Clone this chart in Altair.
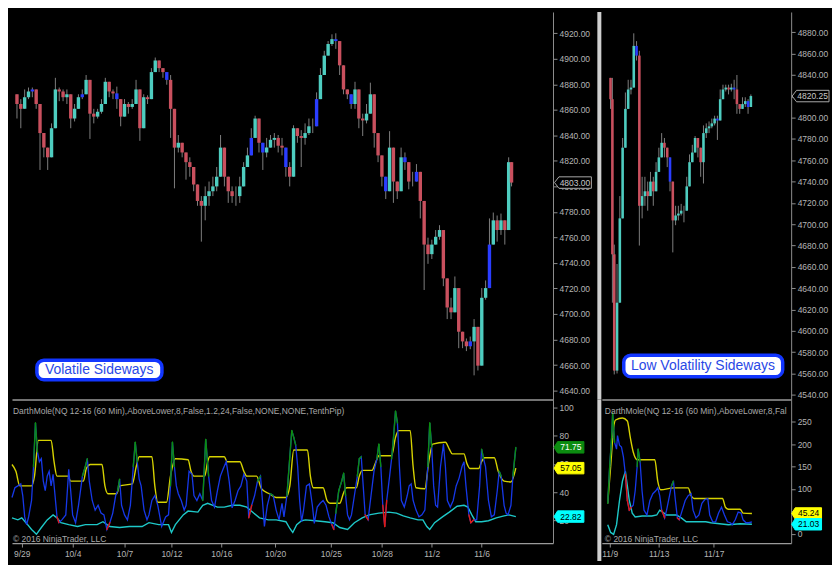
import altair as alt
import numpy as np
import pandas as pd

# ---------------- data: left (volatile) price candles ----------------
L_T = list(range(0, 513, 4)) + [515]
L_CLOSE = [
    4864.6, 4860.8, 4869.9, 4874.4, 4876.0, 4864.6, 4841.8, 4830.4, 4822.8, 4845.6,
    4876.0, 4874.4, 4869.9, 4872.2, 4853.2, 4860.8, 4869.9, 4872.2, 4883.5, 4857.0,
    4854.7, 4858.5, 4864.6, 4882.0, 4874.4, 4872.9, 4868.4, 4854.7, 4864.6, 4862.3,
    4864.6, 4876.0, 4845.6, 4869.9, 4868.4, 4889.6, 4898.7, 4892.7, 4889.6, 4883.5,
    4860.8, 4830.4, 4834.2, 4826.6, 4819.0, 4815.2, 4801.5, 4788.6, 4784.8, 4792.4,
    4796.2, 4800.0, 4807.6, 4830.4, 4807.6, 4796.2, 4792.4, 4792.4, 4800.0, 4815.2,
    4824.3, 4838.0, 4853.2, 4834.2, 4826.6, 4830.4, 4836.5, 4838.0, 4831.9, 4830.4,
    4815.2, 4807.6, 4845.6, 4839.5, 4838.0, 4841.8, 4847.1, 4847.1, 4868.4, 4887.3,
    4902.5, 4911.6, 4915.4, 4913.9, 4894.9, 4876.0, 4872.2, 4864.6, 4876.0, 4853.2,
    4851.7, 4857.0, 4872.2, 4841.8, 4824.3, 4807.6, 4796.2, 4830.4, 4803.8, 4796.2,
    4822.8, 4819.0, 4803.8, 4803.8, 4811.4, 4788.6, 4754.4, 4746.9, 4754.4, 4760.5,
    4765.8, 4727.9, 4705.1, 4701.3, 4720.3, 4686.1, 4678.5, 4674.7, 4678.5, 4689.9,
    4659.5, 4712.7, 4720.3, 4754.4, 4773.4, 4765.8, 4773.4, 4765.8, 4819.0, 4803.0,
]
L_HIGH = [
    4872.2, 4868.4, 4876.0, 4877.5, 4877.5, 4872.2, 4853.2, 4838.0, 4830.4, 4849.4,
    4885.1, 4877.5, 4876.0, 4876.0, 4860.8, 4864.6, 4872.2, 4876.0, 4887.3, 4864.6,
    4860.8, 4860.8, 4868.4, 4885.1, 4877.5, 4876.0, 4878.2, 4864.6, 4868.4, 4866.1,
    4868.4, 4883.5, 4860.8, 4872.2, 4871.4, 4892.7, 4901.0, 4897.2, 4892.7, 4889.6,
    4887.3, 4845.6, 4840.3, 4834.2, 4826.6, 4822.8, 4811.4, 4800.0, 4792.4, 4800.0,
    4803.8, 4807.6, 4815.2, 4840.3, 4815.2, 4803.8, 4800.0, 4800.0, 4807.6, 4819.0,
    4830.4, 4845.6, 4855.4, 4845.6, 4832.7, 4838.0, 4840.3, 4841.8, 4840.3, 4838.0,
    4830.4, 4819.0, 4847.9, 4845.6, 4844.1, 4849.4, 4853.2, 4853.2, 4873.7, 4892.7,
    4906.3, 4913.9, 4919.2, 4920.0, 4902.5, 4883.5, 4876.0, 4869.9, 4882.0, 4860.8,
    4857.0, 4864.6, 4881.3, 4853.2, 4830.4, 4815.2, 4803.8, 4843.3, 4811.4, 4803.8,
    4830.4, 4826.6, 4811.4, 4811.4, 4817.5, 4800.0, 4762.0, 4759.8, 4758.2, 4765.8,
    4769.6, 4739.3, 4714.2, 4712.7, 4729.4, 4693.7, 4682.3, 4680.8, 4682.3, 4696.0,
    4670.9, 4720.3, 4726.3, 4774.9, 4779.5, 4777.2, 4778.7, 4773.4, 4822.8, 4811.4,
]
L_LOW = [
    4853.2, 4845.6, 4864.6, 4868.4, 4869.9, 4860.8, 4812.9, 4822.8, 4812.9, 4834.2,
    4868.4, 4866.8, 4866.8, 4864.6, 4845.6, 4850.9, 4866.8, 4868.4, 4876.0, 4837.2,
    4849.4, 4853.2, 4857.0, 4872.2, 4869.9, 4868.4, 4860.8, 4847.1, 4860.8, 4857.0,
    4860.8, 4868.4, 4835.7, 4866.8, 4864.6, 4879.7, 4894.9, 4889.6, 4885.1, 4879.7,
    4838.0, 4798.5, 4826.6, 4822.8, 4805.3, 4807.6, 4796.2, 4784.8, 4756.7, 4773.4,
    4784.8, 4792.4, 4796.2, 4815.2, 4800.0, 4787.1, 4787.1, 4784.8, 4787.1, 4807.6,
    4819.0, 4830.4, 4841.8, 4826.6, 4812.9, 4822.8, 4830.4, 4830.4, 4826.6, 4824.3,
    4807.6, 4800.0, 4834.2, 4834.2, 4815.2, 4832.7, 4840.3, 4841.8, 4853.2, 4879.7,
    4892.7, 4906.3, 4910.1, 4907.8, 4887.3, 4872.2, 4868.4, 4860.8, 4860.8, 4845.6,
    4839.5, 4849.4, 4860.8, 4830.4, 4819.0, 4800.0, 4790.1, 4815.2, 4787.1, 4790.1,
    4815.2, 4812.9, 4797.7, 4800.0, 4807.6, 4774.9, 4718.8, 4739.3, 4743.1, 4754.4,
    4758.2, 4721.8, 4696.0, 4696.0, 4708.9, 4673.2, 4673.2, 4670.9, 4672.4, 4651.9,
    4655.7, 4708.9, 4711.2, 4737.0, 4765.8, 4756.7, 4762.0, 4754.4, 4796.2, 4800.0,
]
L_BLUE = [16, 68, 104, 156, 244, 256, 280, 312, 332, 348, 384, 404, 416, 472, 492]

# ---------------- data: right (low volatility) price candles ----------------
R_T = [4, 6] + list(range(8, 156, 3))
R_CLOSE = [
    4817.3, 4671.8, 4562.7, 4626.4, 4705.5, 4771.8, 4808.2, 4826.4, 4828.2, 4867.3,
    4858.2, 4717.3, 4726.4, 4730.9, 4726.4, 4740.0, 4730.9, 4749.1, 4762.7, 4776.4,
    4771.8, 4762.7, 4740.0, 4703.6, 4708.2, 4710.0, 4712.7, 4712.7, 4735.5, 4758.2,
    4767.3, 4780.9, 4771.8, 4758.2, 4785.5, 4790.0, 4791.8, 4794.6, 4799.1, 4797.3,
    4817.3, 4826.4, 4828.2, 4826.4, 4828.2, 4826.4, 4812.7, 4808.2, 4812.7, 4815.5,
    4810.0, 4820.25,
]
R_HIGH = [
    4837.3, 4837.3, 4680.9, 4662.7, 4726.4, 4780.9, 4823.6, 4835.5, 4835.5, 4879.1,
    4871.8, 4862.7, 4744.5, 4744.5, 4740.0, 4749.1, 4744.5, 4758.2, 4771.8, 4785.5,
    4780.9, 4769.1, 4749.1, 4717.3, 4717.3, 4717.3, 4719.1, 4717.3, 4744.5, 4765.5,
    4774.5, 4782.7, 4780.9, 4769.1, 4792.7, 4794.6, 4796.4, 4799.1, 4801.8, 4801.8,
    4826.4, 4830.9, 4830.9, 4830.9, 4831.8, 4835.5, 4840.0, 4812.7, 4819.1, 4819.1,
    4817.3, 4821.8,
]
R_LOW = [
    4808.2, 4626.4, 4559.1, 4560.0, 4671.8, 4705.5, 4771.8, 4817.3, 4821.8, 4862.7,
    4853.6, 4680.0, 4705.5, 4717.3, 4712.7, 4726.4, 4717.3, 4730.9, 4749.1, 4767.3,
    4762.7, 4753.6, 4730.9, 4673.6, 4699.1, 4703.6, 4708.2, 4701.8, 4717.3, 4749.1,
    4758.2, 4771.8, 4762.7, 4744.5, 4738.2, 4780.9, 4785.5, 4790.0, 4792.7, 4779.1,
    4799.1, 4817.3, 4824.5, 4821.8, 4824.5, 4817.3, 4803.6, 4803.6, 4808.2, 4810.0,
    4803.6, 4812.7,
]
R_BLUE = [32, 68, 83, 119, 137, 152]

# ---------------- data: left indicator ----------------
LI_Y_T = [0, 4, 8, 20, 23, 27, 40, 43, 46, 57, 60, 73, 76, 80, 92, 95, 98, 107, 110, 123,
          127, 130, 143, 146, 149, 158, 162, 167, 180, 183, 186, 197, 200, 202, 217, 220, 233, 237, 240, 250,
          255, 263, 270, 280, 284, 288, 302, 305, 308, 318, 322, 325, 335, 339, 342, 352, 355, 358, 368, 372,
          375, 388, 392, 395, 407, 410, 413, 422, 426, 430, 443, 447, 450, 462, 465, 468, 477, 480, 483, 493,
          497, 503, 510, 515]
LI_Y_V = [59.6, 54.8, 44.5, 44.5, 51.4, 76.7, 76.7, 61.6, 51.4, 51.4, 47.9, 47.9, 56.8, 59.6, 59.6, 44.5, 39.0, 39.0, 44.5, 45.9,
          58.2, 65.1, 65.1, 44.5, 32.9, 32.9, 51.4, 63.7, 63.0, 54.8, 51.4, 51.4, 61.6, 65.1, 65.1, 61.6, 61.6, 54.8, 51.4, 51.4,
          42.5, 39.0, 36.3, 36.3, 44.5, 69.9, 69.9, 51.4, 43.2, 43.2, 34.2, 32.2, 32.2, 39.7, 43.2, 43.2, 51.4, 55.5, 55.5, 61.6,
          65.8, 65.8, 78.8, 83.6, 83.6, 58.2, 43.2, 42.5, 61.6, 74.0, 75.3, 70.5, 67.1, 67.1, 60.3, 56.8, 56.8, 61.6, 64.4, 64.4,
          54.8, 47.9, 47.3, 57.05]
LI_C_T = [0, 6, 10, 16, 20, 25, 30, 36, 42, 46, 50, 58, 67, 75, 87, 93, 100, 110, 120, 133,
          140, 150, 160, 163, 167, 175, 180, 190, 195, 200, 210, 217, 225, 233, 240, 247, 253, 262, 270, 280,
          284, 287, 291, 296, 300, 310, 320, 328, 335, 343, 350, 358, 365, 375, 385, 393, 400, 407, 415, 420,
          424, 427, 432, 440, 447, 455, 462, 466, 470, 474, 480, 487, 495, 503, 508, 515]
LI_C_V = [21.9, 20.5, 21.9, 17.1, 13.7, 10.3, 15.1, 20.5, 24.0, 21.9, 18.5, 17.1, 15.8, 17.1, 17.1, 19.2, 15.8, 15.1, 15.8, 15.8,
          18.5, 17.1, 17.1, 11.6, 17.1, 24.0, 26.7, 26.0, 30.8, 32.2, 29.5, 29.5, 30.8, 30.8, 29.5, 25.3, 21.9, 20.5, 20.5, 19.2,
          14.4, 11.6, 17.1, 19.9, 20.5, 19.9, 19.2, 18.5, 15.1, 13.7, 18.5, 21.9, 24.0, 25.3, 26.0, 25.3, 23.3, 21.9, 20.5, 20.5,
          15.8, 13.7, 18.5, 22.6, 26.0, 30.1, 30.8, 29.5, 24.0, 19.2, 19.2, 19.9, 21.9, 23.3, 24.0, 22.82]
LI_B_T = [0, 3, 6, 9, 11, 13, 15, 17, 20, 22,
          24, 26, 28, 30, 32, 34, 36, 38, 40, 42,
          44, 46, 48, 51, 55, 58, 60, 62, 65, 68,
          72, 75, 77, 79, 82, 85, 88, 91, 94, 97,
          100, 103, 106, 108, 110, 112, 115, 118, 121, 124,
          126, 128, 130, 132, 135, 138, 140, 143, 146, 149,
          153, 157, 160, 162, 164, 166, 168, 170, 173, 176,
          178, 181, 184, 186, 189, 192, 195, 198, 201, 204,
          207, 210, 213, 216, 219, 222, 225, 228, 231, 234,
          237, 240, 242, 245, 248, 251, 254, 256, 258, 261,
          264, 267, 270, 273, 276, 278, 281, 284, 286, 288,
          290, 292, 294, 296, 298, 301, 304, 307, 309, 312,
          315, 318, 321, 324, 327, 329, 331, 334, 337, 339,
          341, 343, 345, 347, 350, 353, 355, 357, 359, 361,
          364, 367, 370, 373, 375, 377, 379, 381, 383, 386,
          388, 390, 392, 394, 396, 398, 401, 404, 406, 408,
          410, 413, 416, 419, 422, 425, 427, 429, 431, 433,
          435, 438, 441, 443, 445, 448, 451, 454, 457, 460,
          462, 464, 467, 469, 472, 475, 478, 480, 482, 484,
          487, 490, 493, 496, 498, 500, 503, 505, 507, 510,
          512, 515]
LI_B_V = [36.3, 43.2, 44.5, 45.9, 37.7, 22.6, 17.1, 22.6, 34.2, 58.2,
          89.0, 68.5, 61.6, 63.7, 47.9, 41.1, 51.4, 54.8, 44.5, 52.7,
          37.7, 22.6, 18.5, 20.5, 24.0, 56.2, 41.1, 24.0, 18.5, 30.8,
          51.4, 58.2, 63.7, 47.9, 34.2, 27.4, 30.8, 25.3, 24.0, 13.7,
          18.5, 25.3, 37.7, 41.1, 49.3, 30.8, 24.0, 20.5, 30.8, 58.2,
          75.3, 61.6, 49.3, 44.5, 27.4, 20.5, 24.0, 34.2, 37.7, 30.8,
          15.8, 22.6, 24.0, 44.5, 75.3, 58.2, 44.5, 39.0, 34.2, 27.4,
          30.8, 54.8, 52.7, 37.7, 34.2, 39.0, 34.2, 77.4, 51.4, 34.2,
          29.5, 41.1, 51.4, 56.8, 61.6, 47.9, 29.0, 34.2, 41.1, 44.5,
          52.7, 47.9, 21.9, 30.8, 37.7, 47.9, 51.4, 34.2, 15.8, 30.8,
          39.0, 37.7, 27.4, 20.5, 32.2, 22.6, 37.7, 65.1, 83.6, 78.8,
          73.3, 58.2, 34.2, 19.2, 27.4, 44.5, 45.9, 30.8, 18.0, 29.5,
          32.2, 34.2, 30.8, 22.6, 17.1, 13.7, 25.3, 41.1, 47.9, 53.4,
          37.7, 24.0, 20.5, 24.0, 37.7, 51.4, 63.7, 65.1, 44.5, 24.0,
          20.5, 37.7, 54.8, 63.7, 74.0, 58.2, 30.8, 15.8, 34.2, 51.4,
          63.7, 78.8, 97.3, 89.0, 58.2, 34.2, 29.5, 37.7, 44.5, 45.9,
          34.2, 27.4, 22.6, 24.0, 27.4, 58.2, 89.0, 71.9, 44.5, 30.8,
          29.5, 58.2, 74.0, 58.2, 34.2, 29.5, 34.2, 44.5, 50.0, 58.2,
          61.6, 44.5, 24.0, 18.5, 20.5, 20.5, 44.5, 70.5, 63.7, 58.2,
          34.2, 22.6, 24.0, 41.1, 54.8, 51.4, 30.8, 25.3, 24.0, 30.8,
          51.4, 71.75]

# ---------------- data: right indicator ----------------
RI_Y_T = [6, 9, 12, 14, 21, 26, 29, 32, 36, 54, 57, 60, 73, 88, 91, 94, 123, 126, 129, 141, 144, 153]
RI_Y_V = [67.8, 150.2, 236.9, 254.3, 258.7, 252.2, 215.2, 182.7, 165.4, 165.4, 117.7, 98.2, 102.5, 102.5,
          85.2, 78.7, 78.7, 59.2, 54.8, 54.8, 46.1, 45.24]
RI_C_T = [6, 9, 12, 15, 18, 21, 24, 26, 28, 31, 34, 41, 51, 56, 59, 62, 66, 76, 81, 86, 106, 111, 129, 141, 153]
RI_C_V = [20.1, 2.8, -1.5, 20.1, 74.3, 117.7, 139.4, 106.8, 74.3, 46.1, 37.5, 39.6, 39.6, 41.8, 52.6, 48.3,
          41.8, 41.8, 35.3, 26.6, 26.6, 24.5, 20.1, 22.3, 21.03]
RI_B_T = [6, 8, 10, 11, 13, 15, 16, 18, 20, 22,
          24, 26, 28, 30, 32, 34, 36, 37, 39, 41,
          43, 46, 49, 52, 55, 57, 59, 61, 63, 64,
          66, 69, 71, 73, 75, 77, 79, 82, 85, 88,
          91, 93, 96, 99, 102, 105, 108, 110, 113, 116,
          119, 122, 125, 128, 131, 133, 136, 139, 142, 144,
          147, 150, 153]
RI_B_V = [67.8, 150.2, 215.2, 269.5, 204.4, 189.2, 219.6, 197.9, 193.6, 171.9,
          132.8, 74.3, 52.6, 59.2, 63.5, 96.0, 150.2, 189.2, 161.0, 96.0,
          52.6, 41.8, 74.3, 89.5, 96.0, 102.5, 85.2, 52.6, 41.8, 35.3,
          52.6, 85.2, 106.8, 117.7, 74.3, 35.3, 31.0, 52.6, 74.3, 85.2,
          89.5, 52.6, 35.3, 41.8, 67.8, 76.5, 78.7, 41.8, 26.6, 26.6,
          46.1, 59.2, 41.8, 26.6, 24.5, 20.1, 31.0, 48.3, 46.1, 31.0,
          24.5, 24.5, 26.6]

DATE_POS_L = [10, 62, 115, 163, 214, 269, 326, 378, 429, 480]
DATE_LAB_L = ["9/29", "10/4", "10/7", "10/12", "10/16", "10/20", "10/25", "10/28", "11/2", "11/6"]
DATE_POS_R = [8, 58, 114]
DATE_LAB_R = ["11/9", "11/13", "11/17"]

L_PRICE_TICKS = list(range(4640, 4921, 20))
R_PRICE_TICKS = list(range(4540, 4881, 20))
L_IND_TICKS = [20, 40, 60, 80, 100]
R_IND_TICKS = [0, 50, 100, 150, 200, 250]

TITLE = "DarthMole(NQ 12-16 (60 Min),AboveLower,8,False,1.2,24,False,NONE,NONE,TenthPip)"
COPY = "\u00a9 2016 NinjaTrader, LLC"

# ---------------- style ----------------
FONT = "Liberation Sans"
AX = "#8c8c8c"
LAB = "#b4b4b4"
UP = "#4ecdc0"
DOWN = "#c9505e"
BLUEC = "#2a3dff"
WICK = "#7d7d7d"
Y_IND = "#d6d200"
B_IND = "#1638e8"
G_IND = "#0c8c10"
R_IND = "#e21a12"
C_IND = "#1ec8c8"

LW, RW = 543, 190
PH, IH = 389, 144
GAP = 49


def box_path(w, h):
    r = h / w
    return f"M -1 0 L -0.76 {-r:.3f} L 1 {-r:.3f} L 1 {r:.3f} L -0.76 {r:.3f} Z"


def label_expr(pos, lab):
    parts = [f"datum.value == {p} ? '{l}'" for p, l in zip(pos, lab)]
    return " : ".join(parts) + " : ''"


def candle_df(t, close, high, low, blue):
    df = pd.DataFrame({"t": t, "close": close, "high": high, "low": low})
    df["open"] = df["close"].shift(1)
    df.loc[0, "open"] = df.loc[0, "high"]
    df["hi"] = df[["high", "open", "close"]].max(axis=1)
    df["lo"] = df[["low", "open", "close"]].min(axis=1)
    df["kind"] = np.where(df["close"] >= df["open"], "up", "down")
    df.loc[df["t"].isin(blue), "kind"] = "blue"
    return df


def price_panel(df, width, tdom, ydom, yvals, bar_w, mk_cx, ann, ann_box, ann_xy, sep):
    xs = alt.Scale(domain=tdom, nice=False, zero=False)
    ys = alt.Scale(domain=ydom, nice=False, zero=False)
    xaxis = alt.Axis(labels=False, ticks=False, domain=True, domainColor="#9a9a9a",
                     domainWidth=1.5, grid=False, title=None)
    yaxis = alt.Axis(orient="right", values=yvals, format=".2f", grid=False, title=None,
                     labelColor=LAB, labelFont=FONT, labelFontSize=8.5, tickColor=AX,
                     tickSize=4, domainColor=AX, labelPadding=2, labelFlush=False,
                     labelOverlap=False)
    X = alt.X("t:Q", scale=xs, axis=xaxis)
    layers = [
        alt.Chart(df).mark_rule(color=WICK, strokeWidth=1).encode(
            x=X, y=alt.Y("lo:Q", scale=ys, axis=yaxis), y2="hi:Q")
    ]
    for kind, col in [("up", UP), ("down", DOWN), ("blue", BLUEC)]:
        sub = df[df["kind"] == kind]
        layers.append(alt.Chart(sub).mark_bar(size=bar_w, color=col).encode(
            x=X, y=alt.Y("open:Q", scale=ys, axis=yaxis), y2="close:Q"))
    mk = pd.DataFrame({"v": [df["close"].iloc[-1]]})
    w = 37
    layers.append(alt.Chart(mk).mark_point(shape=box_path(w, 11.5), size=w * w, filled=True,
                                           fill="black", stroke="#a8a8a8", strokeWidth=1,
                                           opacity=1).encode(
        x=alt.value(mk_cx), y=alt.Y("v:Q", scale=ys, axis=yaxis)))
    layers.append(alt.Chart(mk).mark_text(font=FONT, fontSize=8.5, color="#c8c8c8", dx=2).encode(
        x=alt.value(mk_cx), y=alt.Y("v:Q", scale=ys, axis=yaxis), text=alt.Text("v:Q", format=".2f")))
    a = pd.DataFrame({"lab": [ann]})
    x0, x1, y0, y1 = ann_box
    layers.append(alt.Chart(a).mark_rect(fill="white", stroke="#1236ff", strokeWidth=3.5,
                                         cornerRadius=7).encode(
        x=alt.value(x0), x2=alt.value(x1), y=alt.value(y0), y2=alt.value(y1)))
    layers.append(alt.Chart(a).mark_text(font=FONT, fontSize=14, color="#2a48e6").encode(
        x=alt.value(ann_xy[0]), y=alt.value(ann_xy[1]), text="lab:N"))
    if sep:
        layers.append(alt.Chart(a).mark_rule(color="#cfcfcf", strokeWidth=4).encode(
            x=alt.value(-2.5), y=alt.value(0), y2=alt.value(PH)))
    return alt.layer(*layers).properties(width=width, height=PH)


def ind_panel(width, tdom, ydom, yvals, yt, yv, ct, cv, bt, bv, dpos, dlab, mk_cx,
              show_blue_mk, title_limit, sep):
    xs = alt.Scale(domain=tdom, nice=False, zero=False)
    ys = alt.Scale(domain=ydom, nice=False, zero=False)
    xaxis = alt.Axis(values=dpos, labelExpr=label_expr(dpos, dlab), grid=False, title=None,
                     labelColor=LAB, labelFont=FONT, labelFontSize=8.5, tickColor=AX, tickSize=4,
                     domainColor="#9a9a9a", domainWidth=1.2, labelPadding=2, labelFlush=False,
                     labelOverlap=False)
    yaxis = alt.Axis(orient="right", values=yvals, grid=False, title=None, labelColor=LAB,
                     labelFont=FONT, labelFontSize=8.5, tickColor=AX, tickSize=4,
                     domainColor=AX, labelPadding=2, labelFlush=False, labelOverlap=False)
    X = alt.X("t:Q", scale=xs, axis=xaxis)
    Y = alt.Y("v:Q", scale=ys, axis=yaxis)
    ydf = pd.DataFrame({"t": yt, "v": yv})
    cdf = pd.DataFrame({"t": ct, "v": cv})
    bdf = pd.DataFrame({"t": bt, "v": bv})

    tb = np.array(bt, dtype=float)
    b = np.array(bv, dtype=float)
    yl = np.interp(tb, yt, yv)
    cl = np.interp(tb, ct, cv)
    segs = []
    for i in range(len(tb) - 1):
        mid = (b[i] + b[i + 1]) / 2
        if mid > (yl[i] + yl[i + 1]) / 2:
            kind = "g"
        elif mid < (cl[i] + cl[i + 1]) / 2:
            kind = "r"
        else:
            continue
        segs.append({"t": tb[i], "t1": tb[i + 1], "v": b[i], "v1": b[i + 1], "kind": kind})
    sdf = pd.DataFrame(segs)

    layers = [
        alt.Chart(ydf).mark_line(color=Y_IND, strokeWidth=1.4, interpolate="monotone").encode(x=X, y=Y),
        alt.Chart(cdf).mark_line(color=C_IND, strokeWidth=1.4).encode(x=X, y=Y),
        alt.Chart(bdf).mark_line(color=B_IND, strokeWidth=1.3).encode(x=X, y=Y),
    ]
    for kind, col in [("g", G_IND), ("r", R_IND)]:
        sub = sdf[sdf["kind"] == kind]
        layers.append(alt.Chart(sub).mark_rule(color=col, strokeWidth=1.4, strokeCap="round").encode(
            x=X, x2="t1:Q", y=Y, y2="v1:Q"))

    w = 30
    shape = box_path(w, 11.5)
    mks = []
    if show_blue_mk:
        mks.append((bv[-1], G_IND, "white"))
    mks.append((yv[-1], "#ffff00", "black"))
    mks.append((cv[-1], "#00ffff", "black"))
    for val, fill, tcol in mks:
        m = pd.DataFrame({"v": [val]})
        layers.append(alt.Chart(m).mark_point(shape=shape, size=w * w, filled=True, fill=fill,
                                              stroke=fill, strokeWidth=1, opacity=1).encode(
            x=alt.value(mk_cx), y=Y))
        layers.append(alt.Chart(m).mark_text(font=FONT, fontSize=8.5, color=tcol, dx=2).encode(
            x=alt.value(mk_cx), y=Y, text=alt.Text("v:Q", format=".2f")))

    tdf = pd.DataFrame({"lab": [TITLE]})
    if title_limit:
        layers.append(alt.Chart(tdf).mark_text(font=FONT, fontSize=8.5, color="#a8a8a8", align="left",
                                               limit=title_limit, ellipsis="\u200b").encode(
            x=alt.value(3), y=alt.value(11.5), text="lab:N"))
    else:
        layers.append(alt.Chart(tdf).mark_text(font=FONT, fontSize=8.5, color="#a8a8a8", align="left").encode(
            x=alt.value(1), y=alt.value(11.5), text="lab:N"))
    cp = pd.DataFrame({"lab": [COPY]})
    layers.append(alt.Chart(cp).mark_text(font=FONT, fontSize=8.5, color="#a8a8a8", align="left").encode(
        x=alt.value(3 if title_limit else 1), y=alt.value(140), text="lab:N"))
    if sep:
        layers.append(alt.Chart(cp).mark_rule(color="#cfcfcf", strokeWidth=4).encode(
            x=alt.value(-2.5), y=alt.value(0), y2=alt.value(IH + 18)))
    return alt.layer(*layers).properties(width=width, height=IH)


ldf = candle_df(L_T, L_CLOSE, L_HIGH, L_LOW, L_BLUE)
rdf = candle_df(R_T, R_CLOSE, R_HIGH, R_LOW, R_BLUE)

pL = price_panel(ldf, LW, [0, 553], [4632.9, 4936.7], L_PRICE_TICKS, 3.4, LW + 20,
                 "Volatile Sideways", (25, 150.5, 349.5, 369), (87.5, 359.5), False)
pR = price_panel(rdf, RW, [0, 193], [4535.5, 4899.1], R_PRICE_TICKS, 2.6, RW + 19.5,
                 "Low Volatility Sideways", (22, 181.5, 344.5, 366), (101.5, 355.5), True)
iL = ind_panel(LW, [0, 553], [4.1, 105.5], L_IND_TICKS, LI_Y_T, LI_Y_V, LI_C_T, LI_C_V,
               LI_B_T, LI_B_V, DATE_POS_L, DATE_LAB_L, LW + 16, True, 0, False)
iR = ind_panel(RW, [0, 193], [-21, 300], R_IND_TICKS, RI_Y_T, RI_Y_V, RI_C_T, RI_C_V,
               RI_B_T, RI_B_V, DATE_POS_R, DATE_LAB_R, RW + 15.5, False, 184, True)

chart = (
    alt.concat(pL, pR, iL, iR, columns=2, spacing={"row": 0, "column": GAP}, bounds="flush")
    .resolve_scale(x="independent", y="independent")
    .properties(padding=0, background="black")
    .configure(font=FONT)
    .configure_view(stroke="transparent")
)

chart.save("out.html", embed_options={"renderer": "svg", "actions": False})
